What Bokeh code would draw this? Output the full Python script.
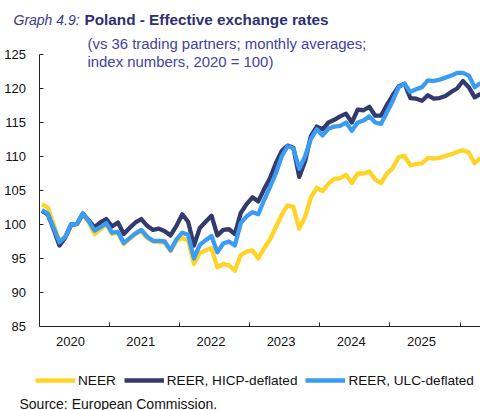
from bokeh.plotting import figure
from bokeh.models import Range1d, FixedTicker, Legend, LegendItem, Label
from bokeh.embed import file_html
from bokeh.resources import INLINE

# ---- data (monthly, Jan 2020 .. Apr 2026) ----
neer = [103.0, 102.5, 100.0, 97.5, 98.2, 99.9, 100.0, 101.5, 100.3, 98.6,
        99.3, 100.0, 98.6, 98.8, 97.1, 97.9, 98.6, 99.0, 98.0, 97.5,
        97.4, 97.3, 96.1, 97.6, 98.0, 97.7, 94.2, 95.8, 96.2, 96.5,
        93.7, 94.2, 94.0, 93.2, 95.5, 96.0, 96.2, 95.0, 96.5, 97.8,
        99.6, 101.4, 102.8, 102.6, 99.4, 101.1, 104.0, 105.4, 104.9, 106.0,
        106.7, 106.8, 107.3, 106.1, 107.5, 107.5, 107.8, 106.6, 106.1, 107.5,
        108.3, 109.9, 110.1, 108.7, 108.9, 109.0, 109.8, 109.7, 109.8, 110.1,
        110.3, 110.7, 110.9, 110.6, 109.0, 109.8]
reer_hicp = [102.0, 101.5, 99.3, 96.9, 98.1, 100.0, 100.1, 101.6, 100.6, 99.6,
             100.3, 100.8, 99.7, 100.3, 98.6, 99.5, 100.3, 100.8, 99.8, 99.2,
             99.4, 99.0, 98.4, 99.8, 101.5, 100.4, 96.9, 99.5, 100.4, 101.3,
             98.4, 99.2, 99.3, 98.6, 101.7, 103.0, 104.0, 103.4, 105.2, 106.8,
             109.0, 110.8, 111.6, 111.3, 107.0, 109.3, 113.0, 114.4, 114.0, 115.0,
             115.4, 115.9, 116.3, 115.0, 116.9, 116.8, 117.3, 116.0, 116.0, 117.6,
             119.0, 120.3, 120.7, 118.6, 118.5, 118.2, 119.0, 118.5, 118.6, 118.9,
             119.5, 120.0, 121.1, 120.2, 118.7, 119.2]
reer_ulc = [102.1, 101.6, 99.5, 97.4, 98.2, 100.0, 100.1, 101.6, 100.5, 99.1,
            99.6, 100.2, 98.8, 98.9, 97.3, 98.0, 98.7, 99.2, 98.2, 97.6,
            97.6, 97.5, 96.2, 97.8, 98.8, 98.5, 95.0, 97.0, 97.7, 98.3,
            95.9, 97.2, 97.5, 96.9, 100.2, 101.2, 101.8, 101.5, 103.6, 105.5,
            107.5, 110.0, 111.5, 111.2, 108.2, 110.0, 112.6, 114.0, 113.1, 114.1,
            114.4, 114.5, 115.0, 113.8, 115.0, 115.3, 115.9, 115.0, 114.8, 116.5,
            118.2, 120.2, 120.7, 119.5, 119.9, 120.2, 121.2, 121.1, 121.3, 121.6,
            121.9, 122.3, 122.3, 121.9, 120.2, 120.8]
years = ["2020", "2021", "2022", "2023", "2024", "2025"]
y_ticks = [85, 90, 95, 100, 105, 110, 115, 120, 125]
series_names = ["NEER", "REER, HICP-deflated", "REER, ULC-deflated"]
colors = ["#FFD426", "#323A6E", "#3A9CF2"]

months = [i + 0.5 for i in range(len(neer))]
year_label_pos = [12 * k + 5.4 for k in range(len(years))]
year_bounds = [12 * k for k in range(1, len(years) + 1)]
x_end = len(neer) - 0.5

FONT = "Liberation Sans"
W, H = 480, 410
# frame = whole canvas; plot area from px 38.5..480 (x) and 54..326 (y)
px_per_month = (W - 38.5) / x_end
px_per_unit = (326 - 54) / (y_ticks[-1] - y_ticks[0])
x0 = -38.5 / px_per_month
y1 = y_ticks[-1] + 54 / px_per_unit
y0 = y_ticks[0] - (H - 326) / px_per_unit

p = figure(width=W, height=H, output_backend="svg", toolbar_location=None,
           x_range=Range1d(x0, x_end), y_range=Range1d(y0, y1),
           min_border_left=0, min_border_right=0, min_border_top=0,
           min_border_bottom=0)
p.outline_line_color = None
p.xgrid.grid_line_color = None
p.ygrid.grid_line_color = None
p.background_fill_color = "white"
p.border_fill_color = "white"

renderers = []
for data, col in zip([neer, reer_hicp, reer_ulc], colors):
    r = p.line(months, data, line_color=col, line_width=4.3, line_join="round")
    renderers.append(r)

# y axis (fixed at x = 0)
ya = p.yaxis[0]
ya.fixed_location = 0
ya.bounds = (y_ticks[0], y_ticks[-1])
ya.ticker = FixedTicker(ticks=y_ticks, minor_ticks=[])
ya.major_tick_in = 4
ya.major_tick_out = 0
ya.minor_tick_in = 0
ya.minor_tick_out = 0
ya.major_label_text_font = FONT
ya.major_label_text_font_size = "13px"
ya.major_label_text_color = "#111111"
ya.major_label_standoff = 13
ya.axis_line_color = "#222222"
ya.major_tick_line_color = "#222222"

# x axis (fixed at y = 85)
xa = p.xaxis[0]
xa.fixed_location = y_ticks[0]
xa.bounds = (0, x_end)
xa.ticker = FixedTicker(ticks=year_label_pos, minor_ticks=year_bounds)
xa.major_label_overrides = {c: y for c, y in zip(year_label_pos, years)}
xa.major_tick_in = 0
xa.major_tick_out = 0
xa.minor_tick_in = 4
xa.minor_tick_out = 0
xa.major_label_text_font = FONT
xa.major_label_text_font_size = "13px"
xa.major_label_text_color = "#111111"
xa.major_label_standoff = 10
xa.axis_line_color = "#222222"
xa.minor_tick_line_color = "#222222"

# legend
legend = Legend(items=[LegendItem(label=n, renderers=[r]) for n, r in zip(series_names, renderers)],
                location=(35, 21), orientation="horizontal",
                glyph_width=40, glyph_height=18, label_height=18,
                label_standoff=3, spacing=8, padding=0, margin=0,
                label_text_font=FONT, label_text_font_size="13.6px",
                label_text_color="#111111",
                background_fill_alpha=0, border_line_color=None)
p.add_layout(legend, "center")

# titles
p.add_layout(Label(x=13, y=391, x_units="screen", y_units="screen", text="Graph 4.9:",
                   text_font=FONT, text_font_size="14px", text_font_style="italic",
                   text_color="#3B3B8E", text_baseline="middle"))
p.add_layout(Label(x=84, y=391, x_units="screen", y_units="screen",
                   text="Poland - Effective exchange rates",
                   text_font=FONT, text_font_size="15.3px", text_font_style="bold",
                   text_color="#2F3072", text_baseline="middle"))
p.add_layout(Label(x=87, y=367, x_units="screen", y_units="screen",
                   text="(vs 36 trading partners; monthly averages;",
                   text_font=FONT, text_font_size="14.9px",
                   text_color="#4343A0", text_baseline="middle"))
p.add_layout(Label(x=87, y=349, x_units="screen", y_units="screen",
                   text="index numbers, 2020 = 100)",
                   text_font=FONT, text_font_size="14.9px",
                   text_color="#4343A0", text_baseline="middle"))
p.add_layout(Label(x=19, y=7, x_units="screen", y_units="screen",
                   text="Source: European Commission.",
                   text_font=FONT, text_font_size="14px",
                   text_color="#111111", text_baseline="middle"))

open("out.html", "w").write(file_html(p, INLINE))
